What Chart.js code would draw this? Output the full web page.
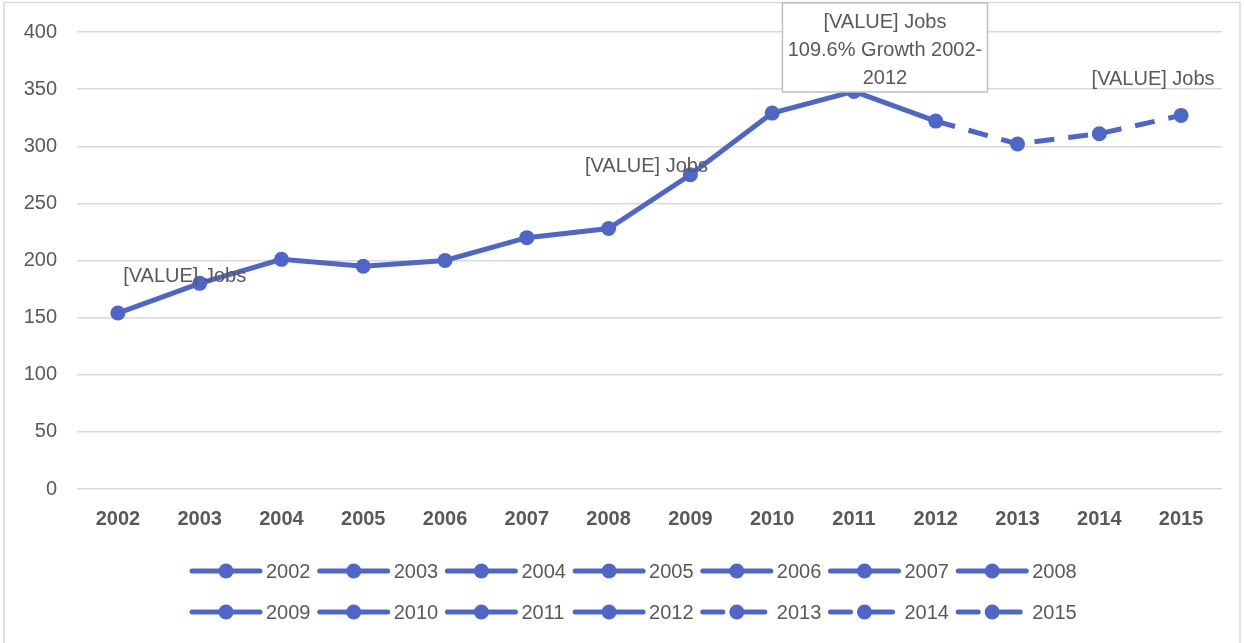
<!DOCTYPE html>
<html>
<head>
<meta charset="utf-8">
<script src="https://cdn.jsdelivr.net/npm/chart.js@4/dist/chart.umd.min.js"></script>
<style>
  html, body { margin: 0; padding: 0; background: #fff; }
  #wrap { position: relative; width: 1244px; height: 643px; }
</style>
</head>
<body>
<div id="wrap"><canvas id="jobsChart" width="1244" height="643"></canvas></div>
<script>
// ---------- data ----------
const years = ["2002", "2003", "2004", "2005", "2006", "2007", "2008",
               "2009", "2010", "2011", "2012", "2013", "2014", "2015"];
const jobs = [154, 180, 201, 195, 200, 220, 228, 275, 329, 348, 322, 302, 311, 327];
const projectedFrom = 11; // 2013 onwards is drawn dashed
const yTicks = [0, 50, 100, 150, 200, 250, 300, 350, 400];
const valueLabel = "[VALUE] Jobs";
const calloutLines = ["[VALUE] Jobs", "109.6% Growth 2002-", "2012"];

// ---------- look ----------
const BLUE = "#4e66c8";
const TEXT = "#595959";
const GRID = "#d9d9d9";
const FONT = "'Liberation Sans', Arial, sans-serif";
const FS = 20;
Chart.defaults.font.family = FONT;
Chart.defaults.color = TEXT;

// where the small labels sit relative to their point
const labelSpots = [
  { index: 1, dx: -15, dy: -7 },
  { index: 7, dx: -44, dy: -8 },
  { index: 13, dx: -28, dy: -36 },
];
const callout = { index: 9, dx: 31, top: 3, w: 205, h: 89 };

// outer frame + labels + bottom legend
const extras = {
  id: "extras",
  beforeDraw(chart) {
    const c = chart.ctx;
    c.save();
    c.strokeStyle = GRID;
    c.lineWidth = 1.5;
    c.strokeRect(4, 2.5, 1236, 700);
    c.restore();
  },
  afterDatasetsDraw(chart) {
    const c = chart.ctx;
    const meta = chart.getDatasetMeta(0);
    c.save();
    c.font = FS + "px " + FONT;
    c.fillStyle = TEXT;
    c.textAlign = "center";
    c.textBaseline = "middle";
    labelSpots.forEach((s) => {
      const p = meta.data[s.index];
      c.fillText(valueLabel, p.x + s.dx, p.y + s.dy);
    });

    // callout box
    const p = meta.data[callout.index];
    const cx = p.x + callout.dx;
    const bx = cx - callout.w / 2;
    c.fillStyle = "#fff";
    c.fillRect(bx, callout.top, callout.w, callout.h);
    c.strokeStyle = "#bfbfbf";
    c.lineWidth = 1.5;
    c.strokeRect(bx, callout.top, callout.w, callout.h);
    c.fillStyle = TEXT;
    calloutLines.forEach((t, i) => c.fillText(t, cx, callout.top + 19 + i * 28));

    // legend: 7 per row
    const perRow = 7, step = 127.7, x0 = 190, y0 = 571, rowGap = 41;
    c.textAlign = "left";
    years.forEach((yr, i) => {
      const x = x0 + (i % perRow) * step;
      const y = y0 + Math.floor(i / perRow) * rowGap;
      c.strokeStyle = BLUE;
      c.lineWidth = 5;
      c.lineCap = "round";
      c.setLineDash(i >= projectedFrom ? [20, 22] : []);
      c.beginPath();
      c.moveTo(x + 2, y);
      c.lineTo(x + (i >= projectedFrom ? 64 : 70), y);
      c.stroke();
      c.setLineDash([]);
      c.fillStyle = BLUE;
      c.beginPath();
      c.arc(x + 36, y, 7.5, 0, Math.PI * 2);
      c.fill();
      c.fillStyle = TEXT;
      c.fillText(yr, x + 76, y + 1);
    });
    c.restore();
  },
};

new Chart(document.getElementById("jobsChart"), {
  type: "line",
  data: {
    labels: years,
    datasets: [{
      data: jobs,
      borderColor: BLUE,
      backgroundColor: BLUE,
      borderWidth: 5,
      pointRadius: 7.5,
      pointHoverRadius: 7.5,
      pointBorderWidth: 0,
      tension: 0,
      segment: {
        borderDash: (ctx) => (ctx.p1DataIndex >= projectedFrom ? [20, 14] : undefined),
      },
    }],
  },
  options: {
    responsive: false,
    animation: false,
    layout: { padding: { top: 32, right: 22, bottom: 94, left: 20 } },
    plugins: { legend: { display: false }, tooltip: { enabled: false } },
    scales: {
      x: {
        offset: true,
        grid: { display: false },
        border: { display: false },
        ticks: { font: { size: FS, weight: "bold" }, color: TEXT, padding: 10 },
        afterFit: (s) => { s.height = 60; },
      },
      y: {
        min: 0,
        max: 400,
        afterBuildTicks: (s) => { s.ticks = yTicks.map((v) => ({ value: v })); },
        grid: { color: GRID, lineWidth: 1.5, drawTicks: false },
        border: { display: false },
        ticks: { font: { size: FS }, color: TEXT, padding: 20 },
        afterFit: (s) => { s.width = 57; },
      },
    },
  },
  plugins: [extras],
});
</script>
</body>
</html>
